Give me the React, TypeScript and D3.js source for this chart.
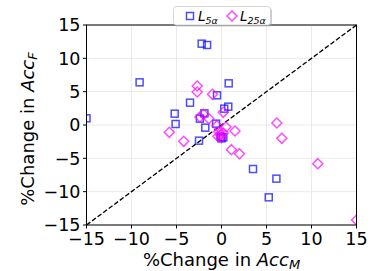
import React from 'react';
import * as d3 from 'd3';

// L_5α points (%change in Acc_M, %change in Acc_F)
const l5x = [-15, -9.1, -2.2, -1.6, 0.8, -0.5, -3.5, -5.2, -5.1, -1.9, -2.4, -1.8, -2.5, -0.6, 0.3, 0.75, -0.1, 0.2, 0.0, 3.5, 6.1, 5.25];
const l5y = [1.0, 6.4, 12.2, 12.0, 6.25, 4.45, 3.35, 1.7, 0.15, 1.75, 0.95, -0.4, -2.35, 0.2, 2.45, 2.75, -1.75, -1.85, -2.0, -6.6, -8.05, -10.85];

// L_25α points
const l25x = [-2.7, -2.7, -1.0, -2.0, -2.4, -1.4, 0.2, -0.5, 0.5, 1.5, -5.8, -4.2, -0.3, -0.1, 0.0, -0.4, 0.2, 1.1, 2.0, 6.15, 6.7, 10.7, 15];
const l25y = [5.85, 4.95, 4.6, 1.6, 1.2, 0.95, 1.9, -0.1, -0.3, -0.9, -1.1, -2.45, -1.0, -1.5, -1.9, -1.7, -1.2, -3.7, -4.3, 0.3, -2.0, -5.8, -14.25];

const ticks = [-15, -10, -5, 0, 5, 10, 15];

const W = 374, H = 271;
const L = 86.5, R = 356.5, T = 25, B = 225;
const FONT = 'DejaVu Sans, sans-serif';
const BLUE = 'rgba(0,0,255,0.7)';
const MAG = 'rgba(255,0,255,0.7)';

const fmt = (v: number) => (v < 0 ? '\u2212' + Math.abs(v) : String(v));

export default function App() {
  const x = d3.scaleLinear().domain([-15, 15]).range([L, R]);
  const y = d3.scaleLinear().domain([-15, 15]).range([B, T]);
  const sq = 7;
  const dm = 5;
  const diamond = (cx: number, cy: number) => `M${cx},${cy - dm}L${cx + dm},${cy}L${cx},${cy + dm}L${cx - dm},${cy}Z`;

  return (
    <svg width={W} height={H} style={{ position: 'absolute', left: 0, top: 0, background: '#fff' }} fontFamily={FONT}>
      <defs>
        <clipPath id="plot">
          <rect x={L} y={T} width={R - L} height={B - T} />
        </clipPath>
      </defs>
      {/* grid */}
      {ticks.map(t => (
        <g key={'g' + t}>
          <line x1={x(t)} x2={x(t)} y1={T} y2={B} stroke="#e4e4e4" strokeWidth={0.8} />
          <line x1={L} x2={R} y1={y(t)} y2={y(t)} stroke="#e4e4e4" strokeWidth={0.8} />
        </g>
      ))}
      {/* diagonal */}
      <line x1={x(-15)} y1={y(-15)} x2={x(15)} y2={y(15)} stroke="#000" strokeWidth={1.3} strokeDasharray="4.8,2.1" />
      <g clipPath="url(#plot)" fill="none" strokeWidth={1.5}>
        {l5x.map((v, i) => (
          <rect key={'s' + i} x={x(v) - sq / 2} y={y(l5y[i]) - sq / 2} width={sq} height={sq} stroke={BLUE} />
        ))}
        {l25x.map((v, i) => (
          <path key={'d' + i} d={diamond(x(v), y(l25y[i]))} stroke={MAG} />
        ))}
      </g>
      {/* frame */}
      <rect x={L} y={T} width={R - L} height={B - T} fill="none" stroke="#000" strokeWidth={1} />
      {/* ticks */}
      {ticks.map(t => (
        <g key={'t' + t}>
          <line x1={x(t)} x2={x(t)} y1={B} y2={B + 3.5} stroke="#000" />
          <text x={x(t)} y={B + 20} fontSize={17.5} textAnchor="middle">{fmt(t)}</text>
          <line x1={L - 3.5} x2={L} y1={y(t)} y2={y(t)} stroke="#000" />
          <text x={L - 6} y={y(t) + 6.4} fontSize={17.5} textAnchor="end">{fmt(t)}</text>
        </g>
      ))}
      {/* axis labels */}
      <text x={(L + R) / 2} y={265.5} fontSize={18} textAnchor="middle">
        %Change in <tspan fontStyle="italic">Acc</tspan><tspan fontStyle="italic" fontSize={13} dy={3}>M</tspan>
      </text>
      <text transform={`translate(34,129) rotate(-90)`} fontSize={18} textAnchor="middle">
        %Change in <tspan fontStyle="italic">Acc</tspan><tspan fontStyle="italic" fontSize={13} dy={3}>F</tspan>
      </text>
      {/* legend */}
      <g>
        <rect x={175} y={8} width={97} height={18.5} rx={3} fill="#999" opacity={0.5} />
        <rect x={173.5} y={6.5} width={97} height={18.5} rx={3} fill="#fff" stroke="#ccc" strokeWidth={0.8} />
        <rect x={186.5} y={12.5} width={7} height={7} fill="none" stroke={BLUE} strokeWidth={1.5} />
        <text x={198} y={21} fontSize={13.5} fontStyle="italic">L<tspan fontSize={9.5} dy={3}>5α</tspan></text>
        <path d={diamond(232, 16)} fill="none" stroke={MAG} strokeWidth={1.5} />
        <text x={240} y={21} fontSize={13.5} fontStyle="italic">L<tspan fontSize={9.5} dy={3}>25α</tspan></text>
      </g>
    </svg>
  );
}
